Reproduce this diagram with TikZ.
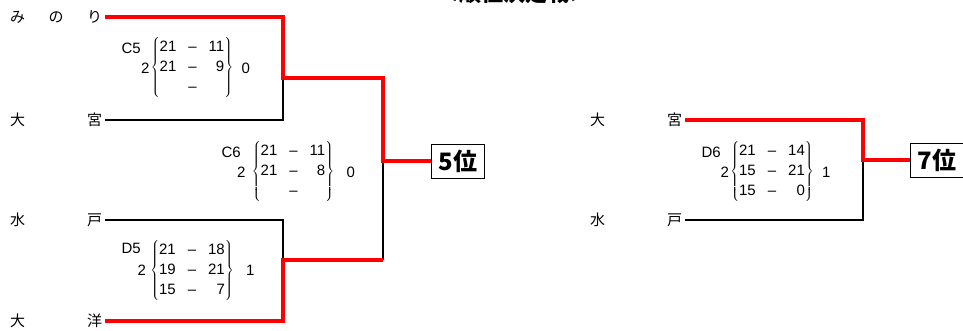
\documentclass[tikz,border=0pt]{standalone}
\usepackage{fontspec}
\setmainfont{Liberation Sans}
\newfontfamily\jpfont{Noto Sans CJK JP}
\usetikzlibrary{positioning}

\newcommand{\gamescores}[1]{$\left\{\begin{tabular}{@{}r@{\hspace{12pt}}c@{\hspace{12pt}}r@{}}#1\end{tabular}\right\}$}

\begin{document}
\begin{tikzpicture}[x=1pt, y=-1pt,
    team/.style={anchor=west, text width=92pt, inner sep=0pt, font=\jpfont\fontsize{15}{15}\selectfont},
    win/.style={red, line width=3.5pt},
    lose/.style={black, line width=1.3pt},
    score/.style={inner sep=0pt, font=\fontsize{15}{20}\selectfont},
    rank/.style={draw, line width=0.8pt, inner sep=0pt, minimum width=53pt, minimum height=34pt, font=\jpfont\bfseries\fontsize{24}{24}\selectfont}
    ]
\useasboundingbox (0,0) rectangle (963,331);
\node[font=\jpfont\bfseries\fontsize{22}{22}\selectfont, anchor=base] (title) at (514,2) {＜順位決定戦＞};

% left bracket
\node[team] (minori) at (10,17) {み\hfill の\hfill り};
\node[team] (omiya) at (10,120) {大\hfill 宮};
\node[team] (mito) at (10,220) {水\hfill 戸};
\node[team] (taiyo) at (10,321) {大\hfill 洋};
\coordinate (C5) at (283,78);
\coordinate (D5) at (283,260);
\coordinate (C6) at (383,161);
\node[rank] (rank5) at (458,161) {5位};

\draw[lose] ([xshift=3pt]omiya.east) -| (C5);
\draw[lose] ([xshift=3pt]mito.east) -| (D5);
\draw[lose] (C6 |- D5) -- (C6);
\draw[win] ([xshift=3pt]minori.east) -| (C5) -- (C6 |- C5) -- (C6) -- (rank5.west);
\draw[win] ([xshift=3pt]taiyo.east) -| (D5) -- (C6 |- D5);

\node[score] (C5s) at (192,68) {\gamescores{21&–&11\\21&–&9\\&–&}};
\node[score, left=1pt of C5s] {2};
\node[score, right=8pt of C5s] {0};
\node[score, anchor=east] at (141,48) {C5};

\node[score] (C6s) at (293,172) {\gamescores{21&–&11\\21&–&8\\&–&}};
\node[score, left=6pt of C6s] {2};
\node[score, right=12pt of C6s] {0};
\node[score, anchor=east] at (241,152) {C6};

\node[score] (D5s) at (192,270) {\gamescores{21&–&18\\19&–&21\\15&–&7}};
\node[score, left=4pt of D5s] {2};
\node[score, right=12pt of D5s] {1};
\node[score, anchor=east] at (141,248) {D5};

% right bracket
\node[team] (omiya2) at (590,120) {大\hfill 宮};
\node[team] (mito2) at (590,220) {水\hfill 戸};
\coordinate (D6) at (863,160);
\node[rank] (rank7) at (937,160) {7位};

\draw[lose] ([xshift=3pt]mito2.east) -| (D6);
\draw[win] ([xshift=3pt]omiya2.east) -| (D6) -- (rank7.west);

\node[score] (D6s) at (772,172) {\gamescores{21&–&14\\15&–&21\\15&–&0}};
\node[score, left=1pt of D6s] {2};
\node[score, right=8pt of D6s] {1};
\node[score, anchor=east] at (721,152) {D6};
\end{tikzpicture}
\end{document}
